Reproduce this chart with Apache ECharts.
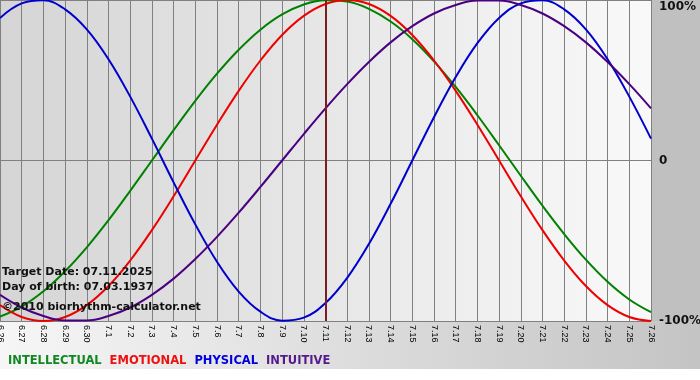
<!DOCTYPE html>
<html>
<head>
<meta charset="utf-8">
<script src="https://cdn.jsdelivr.net/npm/echarts@6/dist/echarts.min.js"></script>
<style>html,body{margin:0;padding:0;background:#fff}#c{width:700px;height:380px}</style>
</head>
<body>
<div id="c"></div>
<script>
const dates = ['6.26','6.27','6.28','6.29','6.30','7.1','7.2','7.3','7.4','7.5','7.6','7.7','7.8','7.9','7.10','7.11','7.12','7.13','7.14','7.15','7.16','7.17','7.18','7.19','7.20','7.21','7.22','7.23','7.24','7.25','7.26'];
const intellectual = [-0.972,-0.910,-0.815,-0.690,-0.541,-0.372,-0.189,0,0.189,0.372,0.541,0.690,0.815,0.910,0.972,0.999,0.990,0.945,0.866,0.756,0.618,0.458,0.282,0.095,-0.095,-0.282,-0.458,-0.618,-0.756,-0.866,-0.945];
const emotional = [-0.901,-0.975,-1,-0.975,-0.901,-0.782,-0.623,-0.434,-0.223,0,0.223,0.434,0.623,0.782,0.901,0.975,1,0.975,0.901,0.782,0.623,0.434,0.223,0,-0.223,-0.434,-0.623,-0.782,-0.901,-0.975,-1];
const physical = [0.888,0.979,0.998,0.942,0.817,0.631,0.398,0.136,-0.136,-0.398,-0.631,-0.817,-0.942,-0.998,-0.979,-0.888,-0.731,-0.520,-0.270,0,0.270,0.520,0.731,0.888,0.979,0.998,0.942,0.817,0.631,0.398,0.136];
const intuitive = [-0.837,-0.916,-0.969,-0.997,-0.997,-0.969,-0.916,-0.837,-0.736,-0.614,-0.476,-0.325,-0.165,0,0.165,0.325,0.476,0.614,0.736,0.837,0.916,0.969,0.997,0.997,0.969,0.916,0.837,0.736,0.614,0.476,0.325];
const seriesNames = ['INTELLECTUAL','EMOTIONAL','PHYSICAL','INTUITIVE'];
const targetDate = '7.11';
const infoLines = ['Target Date: 07.11.2025','Day of birth: 07.03.1937','\u00a92010 biorhythm-calculator.net'];
const yTickLabels = {'-1':'-100%','0':'0','1':'100%'};

const lineColors = ['#008000','#ee0000','#0000cc','#4b0082'];
const legendColors = ['#118822','#ee1111','#0000dd','#551a8b'];
const values = [intellectual, emotional, physical, intuitive];

const chart = echarts.init(document.getElementById('c'), null, {renderer:'canvas'});
const series = seriesNames.map((n, i) => ({
  name: n, type: 'line', data: values[i], smooth: 0.4, symbol: 'none',
  lineStyle: {color: lineColors[i], width: 2}, itemStyle: {color: lineColors[i]},
  z: 3
}));
series[0].markLine = {
  silent: true, symbol: 'none', label: {show: false},
  data: [{xAxis: targetDate}],
  lineStyle: {color: '#7a1e1e', width: 2, type: 'solid'}
};

chart.setOption({
  backgroundColor: '#ffffff',
  animation: false,
  grid: {
    left: 0, right: 49, top: 0, bottom: 59, show: true, borderWidth: 0,
    containLabel: false, outerBoundsMode: 'none',
    backgroundColor: {type: 'linear', x: 0, y: 0, x2: 1, y2: 0,
      colorStops: [{offset: 0, color: '#d5d5d5'}, {offset: 1, color: '#f9f9f9'}]}
  },
  xAxis: {
    type: 'category', data: dates, boundaryGap: false,
    axisLine: {lineStyle: {color: '#808080', width: 1}},
    axisTick: {show: true, length: 3, interval: 0, lineStyle: {color: '#808080'}},
    splitLine: {show: true, interval: 0, lineStyle: {color: '#808080', width: 1}},
    axisLabel: {interval: 0, rotate: -90, fontSize: 9, fontFamily: 'Liberation Sans', color: '#000', margin: 4}
  },
  yAxis: {
    type: 'value', position: 'right', min: -1, max: 1, interval: 1,
    axisLine: {show: false}, axisTick: {show: false},
    splitLine: {show: true, lineStyle: {color: '#808080', width: 1}},
    axisLabel: {
      margin: 8, fontSize: 12, fontWeight: 'bold', fontFamily: 'DejaVu Sans', color: '#111',
      formatter: v => v === 1 ? '{t|' + yTickLabels['1'] + '}' : yTickLabels[String(v)],
      rich: {t: {fontSize: 12, fontWeight: 'bold', fontFamily: 'DejaVu Sans', color: '#111', padding: [14, 0, 0, 0]}}
    }
  },
  legend: {
    left: 3, top: 354, padding: 0, icon: 'none', itemWidth: 0, itemHeight: 14, itemGap: 3, selectedMode: false,
    textStyle: {fontSize: 11.5, fontWeight: 'bold', fontFamily: 'DejaVu Sans'},
    data: seriesNames.map((n, i) => ({name: n, textStyle: {color: legendColors[i]}}))
  },
  graphic: [
    {type: 'rect', z: -10, silent: true, shape: {x: 651, y: 0, width: 49, height: 321}, style: {fill: '#c0c0c0'}},
    {type: 'rect', z: -10, silent: true, shape: {x: 0, y: 321, width: 700, height: 48},
      style: {fill: {type: 'linear', x: 0, y: 0, x2: 1, y2: 0,
        colorStops: [{offset: 0, color: '#f6f6f6'}, {offset: 1, color: '#c4c4c4'}]}}},
    {type: 'text', z: 10, silent: true, left: 2, top: 267, style: {text: infoLines[0], font: 'bold 11px "DejaVu Sans"', fill: '#111'}},
    {type: 'text', z: 10, silent: true, left: 2, top: 282, style: {text: infoLines[1], font: 'bold 11px "DejaVu Sans"', fill: '#111'}},
    {type: 'text', z: 10, silent: true, left: 2, top: 302, style: {text: infoLines[2], font: 'bold 11px "DejaVu Sans"', fill: '#111'}}
  ],
  series: series
});
</script>
</body>
</html>
